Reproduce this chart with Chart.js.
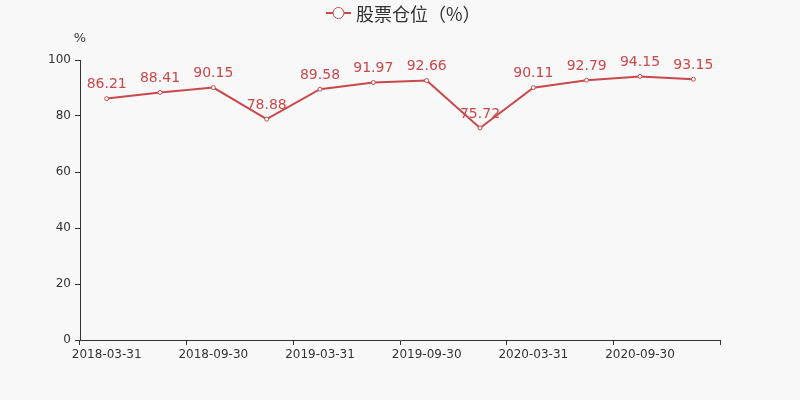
<!DOCTYPE html>
<html>
<head>
<meta charset="utf-8">
<script src="https://cdn.jsdelivr.net/npm/chart.js@4/dist/chart.umd.min.js"></script>
<style>
  html, body { margin: 0; padding: 0; background: #f8f8f8; }
  #wrap { width: 800px; height: 400px; }
</style>
</head>
<body>
<div id="wrap"><canvas id="positionChart"></canvas></div>
<script>
const dates = ['2018-03-31', '2018-06-30', '2018-09-30', '2018-12-31', '2019-03-31', '2019-06-30',
    '2019-09-30', '2019-12-31', '2020-03-31', '2020-06-30', '2020-09-30', '2020-12-31'];
const stockPosition = [86.21, 88.41, 90.15, 78.88, 89.58, 91.97, 92.66, 75.72, 90.11, 92.79, 94.15, 93.15];
const seriesName = '股票仓位（%）';
const yTicks = [0, 20, 40, 60, 80, 100];

const red = '#c9484a';
const axisColor = '#333333';

// value labels above each point, plus the legend and the "%" unit
const extras = {
    id: 'extras',
    afterDatasetsDraw(chart) {
        const ctx = chart.ctx;
        const meta = chart.getDatasetMeta(0);
        ctx.save();
        ctx.fillStyle = red;
        ctx.font = '14px "DejaVu Sans", sans-serif';
        ctx.textAlign = 'center';
        ctx.textBaseline = 'bottom';
        meta.data.forEach((pt, i) => {
            ctx.fillText(stockPosition[i].toFixed(2), pt.x, pt.y - 7);
        });

        // unit label
        ctx.fillStyle = axisColor;
        ctx.font = '13px "DejaVu Sans", sans-serif';
        ctx.textAlign = 'center';
        ctx.textBaseline = 'middle';
        ctx.fillText('%', chart.chartArea.left, 39);

        // legend
        const ly = 13;
        ctx.strokeStyle = red;
        ctx.lineWidth = 2;
        ctx.beginPath();
        ctx.moveTo(326, ly);
        ctx.lineTo(351, ly);
        ctx.stroke();
        ctx.beginPath();
        ctx.arc(338.5, ly, 5.5, 0, Math.PI * 2);
        ctx.fillStyle = '#ffffff';
        ctx.fill();
        ctx.lineWidth = 1;
        ctx.stroke();
        ctx.fillStyle = axisColor;
        ctx.font = '18px "Noto Sans CJK SC", sans-serif';
        ctx.textAlign = 'left';
        ctx.fillText(seriesName, 356, ly + 1);
        ctx.restore();
    }
};

new Chart(document.getElementById('positionChart'), {
    type: 'line',
    data: {
        labels: dates,
        datasets: [{
            label: seriesName,
            data: stockPosition,
            borderColor: red,
            borderWidth: 2,
            pointRadius: 2,
            pointBorderWidth: 1,
            pointBackgroundColor: '#ffffff',
            pointBorderColor: red,
            tension: 0
        }]
    },
    options: {
        responsive: true,
        maintainAspectRatio: false,
        animation: false,
        layout: { padding: { top: 60, right: 80, left: 0, bottom: 0 } },
        plugins: {
            legend: { display: false },
            tooltip: { enabled: false }
        },
        scales: {
            x: {
                offset: true,
                afterFit: scale => { scale.height = 60; },
                grid: {
                    offset: true,
                    drawOnChartArea: false,
                    tickLength: 5,
                    color: ctx => (ctx.index === undefined || ctx.index % 2 === 0) ? axisColor : 'rgba(0,0,0,0)'
                },
                border: { color: axisColor, width: 1 },
                ticks: {
                    autoSkip: false,
                    maxRotation: 0,
                    padding: 3,
                    color: axisColor,
                    font: { family: '"DejaVu Sans", sans-serif', size: 12 },
                    callback: (v, i) => i % 2 === 0 ? dates[i] : ''
                }
            },
            y: {
                min: yTicks[0],
                max: yTicks[yTicks.length - 1],
                afterFit: scale => { scale.width = 80; },
                afterBuildTicks: scale => { scale.ticks = yTicks.map(v => ({ value: v })); },
                grid: { drawOnChartArea: false, tickLength: 5, color: axisColor },
                border: { color: axisColor, width: 1 },
                ticks: {
                    padding: 4,
                    color: axisColor,
                    font: { family: '"DejaVu Sans", sans-serif', size: 12 }
                }
            }
        }
    },
    plugins: [extras]
});
</script>
</body>
</html>
